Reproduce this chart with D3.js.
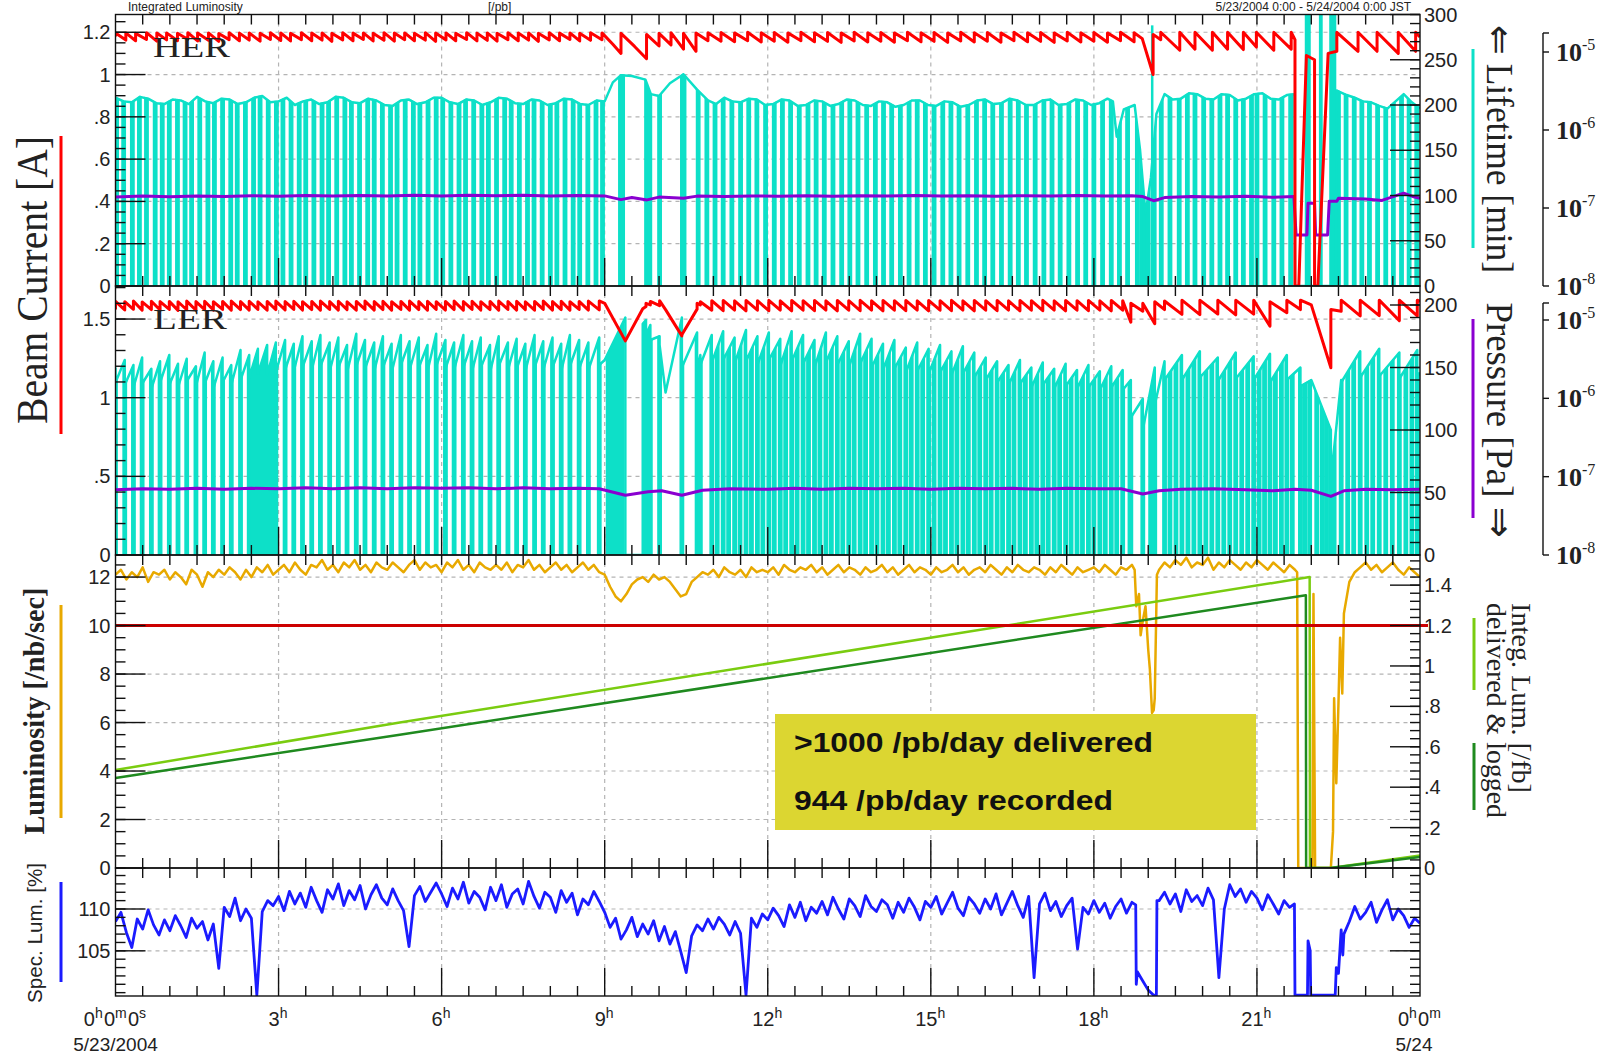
<!DOCTYPE html>
<html>
<head>
<meta charset="utf-8">
<script src="https://cdn.jsdelivr.net/npm/d3@7"></script>
<style>
  body { margin: 0; background: #fff; }
  text { font-family: "Liberation Sans", Arial, sans-serif; fill: #222; }
  .serif { font-family: "Liberation Serif", "Times New Roman", serif; }
</style>
</head>
<body>
<div id="chart"></div>
<script>
// ---- data (hours since 5/23/2004 0:00) ----

// HER beam current teeth: [hour, current before injection, current after] [A]
var herCur = [
  [0.00,1.180,1.196],[0.19,1.163,1.197],[0.37,1.160,1.195],[0.57,1.166,1.198],[0.76,1.158,1.196],[0.94,1.164,1.197],
  [1.14,1.160,1.195],[1.33,1.167,1.198],[1.51,1.159,1.196],[1.71,1.162,1.197],[1.90,1.157,1.194],[2.09,1.165,1.198],
  [2.28,1.160,1.196],[2.46,1.163,1.197],[2.66,1.158,1.195],[2.85,1.166,1.198],[3.04,1.161,1.197],[3.22,1.159,1.195],
  [3.42,1.165,1.198],[3.61,1.160,1.196],[3.80,1.163,1.197],[3.98,1.157,1.195],[4.18,1.164,1.198],[4.37,1.160,1.196],
  [4.56,1.166,1.197],[4.74,1.159,1.195],[4.94,1.162,1.198],[5.13,1.158,1.196],[5.32,1.165,1.197],[5.50,1.160,1.195],
  [5.70,1.163,1.198],[5.89,1.157,1.196],[6.08,1.164,1.197],[6.26,1.160,1.195],[6.46,1.166,1.198],[6.65,1.159,1.196],
  [6.84,1.162,1.197],[7.02,1.158,1.195],[7.22,1.165,1.198],[7.41,1.160,1.196],[7.60,1.163,1.197],[7.78,1.157,1.195],
  [7.98,1.164,1.198],[8.17,1.160,1.196],[8.36,1.166,1.197],[8.54,1.159,1.195],[8.74,1.162,1.198],[8.95,1.165,1.197],
  [9.15,1.143,1.143],[9.30,1.100,1.195],[9.55,1.133,1.133],[9.77,1.075,1.190],[10.00,1.135,1.195],[10.22,1.140,1.198],
  [10.45,1.120,1.195],[10.68,1.110,1.197],[10.90,1.160,1.198],
  [11.14,1.158,1.199],[11.39,1.155,1.197],[11.63,1.160,1.200],[11.88,1.154,1.198],[12.12,1.158,1.199],[12.37,1.153,1.197],
  [12.61,1.160,1.200],[12.86,1.155,1.198],[13.10,1.157,1.199],[13.35,1.152,1.197],[13.59,1.159,1.200],[13.84,1.154,1.198],
  [14.08,1.158,1.199],[14.33,1.153,1.197],[14.57,1.160,1.200],[14.82,1.155,1.198],[15.06,1.157,1.199],[15.31,1.152,1.197],
  [15.55,1.159,1.200],[15.80,1.154,1.198],[16.04,1.158,1.199],[16.29,1.153,1.197],[16.53,1.160,1.200],[16.78,1.155,1.198],
  [17.02,1.157,1.199],[17.27,1.152,1.197],[17.51,1.159,1.200],[17.76,1.154,1.198],[18.00,1.158,1.199],[18.25,1.153,1.197],
  [18.49,1.160,1.200],[18.74,1.155,1.198],
  [18.89,1.170,1.170],[19.09,1.000,1.190],[19.23,1.165,1.200],[19.58,1.115,1.200],[19.86,1.120,1.200],[20.18,1.115,1.200],
  [20.46,1.120,1.200],[20.75,1.118,1.200],[20.99,1.130,1.200],[21.31,1.115,1.200],[21.63,1.120,1.200],
  [21.70,1.165,0],[21.77,0,0],[21.91,1.090,1.090],[22.06,1.070,0],[22.12,0,0],[22.31,1.100,1.100],[22.47,1.110,1.200],
  [22.86,1.110,1.200],[23.21,1.110,1.200],[23.60,1.100,1.200],[23.92,1.110,1.200],[24.00,1.178,1.178]
];

// HER lifetime, top of the trace [hour, min]
var herLife = [
  [0,208],[0.15,204],[0.3,203],[0.45,209],[0.6,207],[0.75,202],[0.9,201],[1.05,206],[1.2,205],[1.35,201],
  [1.5,209],[1.65,204],[1.8,202],[1.95,207],[2.1,206],[2.25,201],[2.4,203],[2.55,208],[2.7,210],[2.85,203],
  [3.0,204],[3.15,208],[3.3,200],[3.45,204],[3.6,206],[3.75,201],[3.9,203],[4.05,209],[4.2,208],[4.35,203],
  [4.5,202],[4.65,207],[4.8,205],[4.95,200],[5.1,199],[5.25,205],[5.4,206],[5.55,201],[5.7,203],[5.85,208],
  [6.0,208],[6.15,203],[6.3,201],[6.45,206],[6.6,205],[6.75,200],[6.9,203],[7.05,208],[7.2,207],[7.35,202],
  [7.5,201],[7.65,206],[7.8,205],[7.95,200],[8.1,202],[8.25,207],[8.4,206],[8.55,201],[8.7,200],[8.85,205],
  [9.0,204],[9.15,225],[9.3,233],[9.5,232],[9.75,228],[9.85,212],[10.0,210],[10.2,224],[10.45,234],[10.7,217],
  [10.9,205],[11.05,201],[11.2,208],[11.35,204],[11.5,203],[11.65,207],[11.8,206],[11.95,200],[12.1,201],[12.25,206],
  [12.4,205],[12.55,199],[12.7,200],[12.85,205],[13.0,204],[13.15,199],[13.3,201],[13.45,206],[13.6,205],[13.75,200],
  [13.9,199],[14.05,204],[14.2,203],[14.35,198],[14.5,200],[14.65,205],[14.8,205],[14.95,200],[15.1,199],[15.25,204],
  [15.4,203],[15.55,198],[15.7,200],[15.85,205],[16.0,206],[16.15,201],[16.3,202],[16.45,207],[16.6,205],[16.75,200],
  [16.9,200],[17.05,205],[17.2,206],[17.35,200],[17.5,201],[17.65,206],[17.8,205],[17.95,200],[18.1,202],[18.25,207],
  [18.35,204],[18.42,165],[18.55,195],[18.75,200],[18.85,150],
  [18.95,80],[19.05,120],[19.15,190],[19.3,212],[19.45,206],[19.6,207],[19.75,213],[19.9,212],[20.05,207],[20.2,206],
  [20.35,212],[20.5,211],[20.65,205],[20.8,207],[20.95,212],[21.1,213],[21.25,207],[21.4,206],[21.55,211],
  [21.69,212],[21.70,0],[22.45,0],[22.47,216],[22.65,211],[22.8,208],[22.95,204],[23.1,203],[23.25,199],
  [23.4,196],[23.55,204],[23.7,212],[23.85,203],[24,196]
];

// HER injection dips of the lifetime trace [hour]
var herInj = [0.02,0.15,0.31,0.44,0.57,0.73,0.86,0.99,1.14,1.28,1.40,1.55,1.70,1.82,1.97,2.12,2.24,2.39,2.54,2.66,
  2.81,2.96,3.08,3.23,3.38,3.50,3.65,3.80,3.92,4.07,4.22,4.34,4.49,4.64,4.76,4.91,5.06,5.18,5.33,5.48,5.60,5.75,
  5.90,6.02,6.17,6.32,6.44,6.59,6.74,6.86,7.01,7.16,7.28,7.43,7.58,7.70,7.85,8.00,8.12,8.27,8.42,8.54,8.69,8.84,8.96,
  9.29,9.33,9.77,9.83,10.01,10.43,10.46,10.72,10.88,
  11.03,11.18,11.34,11.50,11.65,11.80,11.96,12.12,12.27,12.42,12.58,12.74,12.89,13.04,13.20,13.36,13.51,13.66,13.82,
  13.98,14.13,14.28,14.44,14.60,14.75,14.90,15.06,15.22,15.37,15.52,15.68,15.84,15.99,16.14,16.30,16.46,16.61,16.76,
  16.92,17.08,17.23,17.38,17.54,17.70,17.85,18.00,18.16,18.32,
  18.47,18.62,18.80,18.88,18.93,19.00,19.11,19.24,
  19.40,19.57,19.72,19.86,20.02,20.17,20.32,20.46,20.61,20.75,20.90,21.00,21.15,21.31,21.46,21.62,
  22.50,22.64,22.79,22.93,23.07,23.22,23.37,23.51,23.66,23.80,23.94];

// HER lifetime going off scale during the abort: [from, to, min]
var herLifeHigh = [[19.05,19.08,288],[21.88,21.99,300],[22.14,22.21,300],[22.33,22.46,300]];

// HER pressure [hour, x1e-7 Pa]
var herPres = [
  [0,1.38],[0.5,1.42],[1,1.39],[1.5,1.43],[2,1.40],[2.5,1.44],[3,1.41],[3.5,1.45],[4,1.42],[4.5,1.45],[5,1.43],
  [5.5,1.46],[6,1.43],[6.5,1.46],[7,1.44],[7.5,1.46],[8,1.43],[8.5,1.45],[9.0,1.43],[9.3,1.28],[9.5,1.36],[9.78,1.27],
  [10.0,1.38],[10.45,1.33],[10.7,1.42],[11.2,1.40],[11.7,1.43],[12.2,1.41],[12.7,1.44],[13.2,1.41],[13.7,1.44],
  [14.2,1.42],[14.7,1.45],[15.2,1.42],[15.7,1.44],[16.2,1.41],[16.7,1.44],[17.2,1.42],[17.7,1.45],[18.2,1.42],
  [18.7,1.44],[18.9,1.40],[19.1,1.24],[19.3,1.36],[19.8,1.40],[20.3,1.38],[20.8,1.41],[21.3,1.37],[21.68,1.40],
  [21.72,0.45],[21.92,0.45],[21.94,1.15],[22.06,1.15],[22.08,0.45],[22.30,0.45],[22.33,1.22],[22.47,1.22],
  [22.5,1.33],[23.0,1.30],[23.3,1.25],[23.7,1.55],[23.9,1.38],[24,1.33]
];

// LER fills: [hour, current before, current after, lifetime before, lifetime after]
var lerFill = [
  [0.00,1.560,1.612,150,138],[0.17,1.558,1.610,156,136],[0.33,1.562,1.614,152,134],[0.49,1.556,1.609,158,137],
  [0.66,1.560,1.613,149,133],[0.82,1.557,1.611,155,138],[0.99,1.561,1.612,160,136],[1.15,1.555,1.610,153,134],
  [1.31,1.559,1.614,157,139],[1.48,1.556,1.611,151,135],[1.64,1.560,1.613,162,137],[1.80,1.557,1.610,155,133],
  [1.97,1.561,1.612,158,138],[2.13,1.556,1.614,152,136],[2.30,1.560,1.611,164,140],[2.46,1.557,1.613,160,142],
  [2.62,1.561,1.610,165,145],[2.79,1.556,1.612,168,144],[2.95,1.560,1.614,170,146],[3.12,1.558,1.611,172,148],
  [3.28,1.561,1.613,169,147],[3.44,1.557,1.610,175,150],[3.61,1.560,1.612,171,148],[3.77,1.556,1.614,176,151],
  [3.94,1.561,1.611,170,147],[4.10,1.557,1.613,174,150],[4.26,1.560,1.610,168,146],[4.43,1.556,1.612,177,151],
  [4.59,1.561,1.614,172,149],[4.76,1.557,1.611,170,147],[4.92,1.560,1.613,175,150],[5.08,1.556,1.610,169,146],
  [5.25,1.561,1.612,176,152],[5.41,1.557,1.614,171,148],[5.58,1.560,1.611,174,150],[5.74,1.556,1.613,168,147],
  [5.90,1.561,1.610,177,151],[6.07,1.557,1.612,172,149],[6.23,1.560,1.614,170,148],[6.40,1.556,1.611,176,150],
  [6.56,1.561,1.613,171,147],[6.72,1.557,1.610,174,150],[6.89,1.560,1.612,168,146],[7.05,1.556,1.614,175,151],
  [7.22,1.561,1.611,170,148],[7.38,1.557,1.613,173,149],[7.54,1.560,1.610,169,147],[7.71,1.556,1.612,176,150],
  [7.87,1.561,1.614,171,148],[8.04,1.557,1.611,174,150],[8.20,1.560,1.613,169,147],[8.36,1.556,1.610,176,151],
  [8.53,1.561,1.612,172,149],[8.70,1.557,1.614,170,148],[8.90,1.558,1.615,174,152],
  [9.00,1.600,1.600,156,156],[9.38,1.361,1.361,190,0],[9.70,1.565,1.565,0,185],[9.76,1.580,1.600,188,176],
  [9.84,1.590,1.612,184,172],[10.01,1.585,1.617,175,168],[10.12,1.560,1.560,130,130],[10.42,1.393,1.400,190,150],
  [10.70,1.563,1.600,178,148],[10.76,1.590,1.610,160,152],
  [10.97,1.556,1.617,176,154],[11.18,1.553,1.618,179,156],[11.39,1.557,1.616,174,153],[11.60,1.552,1.618,180,155],
  [11.81,1.556,1.617,175,152],[12.02,1.553,1.619,178,156],[12.23,1.557,1.616,173,151],[12.44,1.552,1.618,179,155],
  [12.65,1.556,1.617,176,153],[12.86,1.553,1.618,172,150],[13.07,1.557,1.616,178,154],[13.28,1.552,1.618,175,152],
  [13.49,1.556,1.617,171,150],[13.70,1.553,1.619,177,153],[13.91,1.557,1.616,173,150],[14.12,1.552,1.618,169,148],
  [14.33,1.556,1.617,172,149],[14.54,1.553,1.618,166,146],[14.75,1.557,1.616,170,147],[14.96,1.552,1.618,165,145],
  [15.17,1.556,1.617,168,146],[15.38,1.553,1.619,163,144],[15.59,1.557,1.616,167,145],[15.80,1.552,1.618,162,142],
  [16.01,1.556,1.617,158,140],[16.22,1.553,1.618,155,138],[16.43,1.557,1.616,152,136],[16.64,1.552,1.618,156,137],
  [16.85,1.556,1.617,150,134],[17.06,1.553,1.619,154,136],[17.27,1.557,1.616,149,133],[17.48,1.552,1.618,153,135],
  [17.69,1.556,1.617,148,133],[17.90,1.553,1.618,152,134],[18.11,1.557,1.616,147,132],[18.32,1.552,1.618,151,134],
  [18.53,1.556,1.617,148,132],
  [18.68,1.480,1.600,140,110],[18.90,1.550,1.600,125,100],[19.12,1.470,1.610,150,120],[19.30,1.560,1.615,155,140],
  [19.62,1.530,1.620,160,140],[19.95,1.528,1.620,163,142],[20.28,1.532,1.620,158,139],[20.61,1.527,1.620,162,141],
  [20.94,1.531,1.620,159,140],[21.24,1.455,1.610,161,138],[21.55,1.540,1.620,160,140],[21.80,1.560,1.620,150,135],
  [22.00,1.590,1.590,140,140],[22.36,1.190,1.560,100,60],[22.55,1.550,1.620,140,138],
  [22.90,1.520,1.620,163,142],[23.25,1.522,1.620,165,143],[23.62,1.490,1.620,162,141],[23.95,1.520,1.620,164,142],
  [24.00,1.612,1.612,146,146]
];

// extra LER lifetime dips (injections of the other ring) [hour]
var lerInjX = [11.07,11.28,11.49,11.70,11.91,12.12,12.33,12.54,12.75,12.96,13.17,13.38,13.59,13.80,14.01,14.22,
  14.43,14.64,14.85,15.06,15.27,15.48,15.69,15.90,16.11,16.32,16.53,16.74,16.95,17.16,17.37,17.58,17.79,18.00,
  18.21,18.42,19.40,19.51,19.73,19.84,20.06,20.17,20.39,20.50,20.72,20.83,21.04,21.14,21.34,21.45,21.65,
  21.88,21.97,22.10,22.20,22.28,22.42,22.67,22.78,23.02,23.13,23.37,23.49,23.74,23.85];

// LER stretches with continuous dips (solid under the trace) [from, to]
var lerSolid = [[2.48,2.95],[9.02,9.36],[18.62,18.70],[19.00,19.12]];

// LER pressure [hour, x1e-7 Pa]
var lerPres = [
  [0,0.68],[0.5,0.70],[1,0.69],[1.5,0.71],[2,0.69],[2.5,0.71],[3,0.70],[3.5,0.72],[4,0.70],[4.5,0.72],[5,0.70],
  [5.5,0.72],[6,0.71],[6.5,0.72],[7,0.70],[7.5,0.72],[8,0.70],[8.5,0.71],[8.9,0.70],[9.38,0.58],[9.8,0.64],
  [10.05,0.66],[10.42,0.58],[10.8,0.67],[11.3,0.70],[12,0.69],[12.5,0.71],[13,0.69],[13.5,0.71],[14,0.70],
  [14.5,0.71],[15,0.69],[15.5,0.71],[16,0.70],[16.5,0.71],[17,0.69],[17.5,0.71],[18,0.70],[18.5,0.70],[18.9,0.60],
  [19.2,0.66],[19.6,0.69],[20.2,0.70],[20.8,0.68],[21.3,0.66],[21.7,0.69],[22.0,0.67],[22.36,0.56],[22.6,0.66],
  [23,0.69],[23.5,0.68],[24,0.69]
];

// luminosity [/nb/sec], one reading every 0.1 h from 0:00
var lumStep = 0.1;
var lumVals = [
  12.1,12.3,11.9,12.2,12.0,12.4,11.8,12.2,12.1,12.3, 11.9,12.2,12.0,11.7,12.3,12.1,11.6,12.2,12.0,12.3,
  12.1,12.4,12.2,11.9,12.3,12.0,12.4,12.2,12.5,12.1, 12.3,12.5,12.2,12.6,12.3,12.1,12.5,12.4,12.7,12.3,
  12.5,12.2,12.6,12.4,12.7,12.3,12.5,12.2,12.6,12.4, 12.3,12.6,12.4,12.2,12.5,12.7,12.3,12.6,12.4,12.5,
  12.2,12.6,12.4,12.7,12.3,12.5,12.2,12.6,12.4,12.3, 12.5,12.3,12.6,12.2,12.5,12.4,12.7,12.3,12.5,12.2,
  12.4,12.6,12.3,12.5,12.2,12.4,12.6,12.3,12.5,12.2, 12.1,11.6,11.2,11.0,11.3,11.7,11.9,12.0,11.8,12.1,
  11.9,12.0,11.8,11.5,11.2,11.3,11.8,12.0,12.2,12.1, 12.3,12.0,12.4,12.2,12.1,12.3,12.0,12.4,12.2,12.3,
  12.2,12.4,12.1,12.5,12.3,12.2,12.4,12.3,12.5,12.2, 12.4,12.1,12.3,12.5,12.2,12.4,12.3,12.1,12.4,12.2,
  12.3,12.5,12.2,12.4,12.1,12.3,12.5,12.2,12.4,12.3, 12.1,12.4,12.2,12.3,12.5,12.2,12.4,12.1,12.3,12.4,
  12.2,12.5,12.3,12.1,12.4,12.2,12.5,12.3,12.2,12.4, 12.3,12.1,12.4,12.2,12.5,12.3,12.1,12.4,12.2,12.3,
  12.4,12.2,12.5,12.3,12.1,12.4,12.3,12.5,11.0,10.2, 9.0,6.5,12.3,12.6,12.4,12.7,12.5,12.8,12.4,12.6,
  12.5,12.8,12.3,12.6,12.4,12.7,12.5,12.3,12.6,12.4, 12.7,12.5,12.3,12.6,12.4,12.2,12.5,12.3,0,0,
  0,0,0,0,1.5,6.8,10.5,11.8,12.2,12.4, 12.6,12.3,12.5,12.2,12.4,12.6,12.3,12.1,12.4,12.2,
  12.0
];
// luminosity readings in between, around the beam losses [hour, /nb/sec]
var lumExtra = [[18.75,12.3],[18.78,10.8],[18.83,11.3],[18.86,9.6],[18.95,10.8],[19.03,8.2],[19.07,6.4],
  [19.12,7.0],[19.16,12.1],[21.74,12.2],[21.76,0],[22.02,0],[22.04,11.3],[22.07,0],[22.36,0],[22.42,7.0],
  [22.46,3.5],[22.53,9.5],[22.57,7.2]];

// integrated luminosity [/fb]
var intDelivered = [[0,0.485],[5.23,0.72],[21.97,1.44],[21.975,0],[22.35,0],[24,0.062]];
var intLogged = [[0,0.446],[5.23,0.66],[21.90,1.35],[21.905,0],[22.35,0],[24,0.055]];
var lumGoal = 10;

// specific luminosity [%], one reading every 0.1 h
var specStep = 0.1;
var specVals = [
  108.5,109.6,107.2,105.4,108.8,107.6,109.9,108.1,106.9,108.7, 107.4,109.2,108.0,106.6,108.9,107.7,108.5,106.3,108.2,102.9,
  110.2,109.1,111.3,108.6,110.0,108.9,99.7,109.7,111.0,110.4, 111.5,109.8,112.1,110.6,111.9,110.2,112.6,111.0,109.6,112.3,
  111.2,113.0,110.4,112.2,111.1,112.8,110.0,111.7,112.9,111.3, 110.5,112.4,111.0,109.8,105.5,111.6,112.7,110.9,112.0,113.1,
  111.8,110.3,112.5,111.2,113.2,110.7,112.1,111.4,109.9,112.6, 111.0,112.9,110.2,111.8,112.4,110.6,113.3,111.5,110.1,112.0,
  111.4,109.6,112.2,110.8,111.9,109.3,111.2,110.5,112.1,110.9, 109.6,107.8,108.9,106.4,107.5,109.0,106.7,108.2,107.0,108.6,
  106.2,107.9,105.8,107.3,104.9,102.4,106.8,108.1,107.4,108.8, 107.6,109.0,108.2,106.9,108.5,107.1,99.7,108.9,107.8,109.4,
  108.7,110.1,109.2,107.9,110.5,109.0,110.8,108.6,110.2,109.5, 110.9,109.3,111.4,110.0,108.8,111.2,110.4,109.1,111.6,110.3,
  109.7,111.1,110.5,108.9,110.8,109.6,111.3,110.2,108.7,110.9, 110.2,111.5,109.4,110.7,112.0,110.1,109.2,111.4,110.6,109.5,
  111.2,110.0,111.8,109.3,110.7,112.1,110.4,109.0,111.5,101.8, 110.6,111.9,109.8,110.9,109.1,110.4,111.3,105.2,110.2,109.4,
  111.0,109.6,110.7,108.9,110.3,111.2,109.5,110.8,102.5,101.4, 100.3,99.7,111.0,112.0,110.6,111.8,109.7,112.3,110.9,111.6,
  110.4,112.5,111.1,101.8,110.0,112.9,111.5,112.4,110.8,112.1, 111.3,109.9,111.7,110.6,109.4,111.0,110.2,99.7,99.7,99.7,
  99.7,99.7,99.7,99.7,99.7,102.3,107.0,108.5,110.3,108.8, 109.6,110.8,108.4,109.9,111.1,108.7,110.0,109.2,107.8,108.9,
  108.3
];
var specExtra = [[18.77,110.5],[18.78,101.0],[19.15,99.7],[19.16,111.0],[21.69,110.6],[21.70,99.7],[21.93,99.7],
  [21.94,106.2],[21.98,105.0],[21.99,99.7],[22.44,99.7],[22.46,103.0],[22.55,107.5],[22.58,104.5]];

// axis ticks
var hourTicks = [0, 3, 6, 9, 12, 15, 18, 21, 24];
var herCurTicks = [0, 0.2, 0.4, 0.6, 0.8, 1, 1.2];
var herLifeTicks = [0, 50, 100, 150, 200, 250, 300];
var lerCurTicks = [0, 0.5, 1, 1.5];
var lerLifeTicks = [0, 50, 100, 150, 200];
var lumTicks = [0, 2, 4, 6, 8, 10, 12];
var intTicks = [0, 0.2, 0.4, 0.6, 0.8, 1, 1.2, 1.4];
var specTicks = [105, 110];
var presTicks = [1e-8, 1e-7, 1e-6, 1e-5];

// ---- layout ----
var W = 1603, H = 1054;
var X0 = 115.5, X1 = 1420;
var PANEL = {
  her: { top: 14.5, bot: 286 },
  ler: { top: 286, bot: 555 },
  lum: { top: 555, bot: 868 },
  spec: { top: 868, bot: 996 }
};
var C = {
  red: "#ff0000", cyan: "#0de0c8", purple: "#8a00d0", orange: "#e8a900",
  lgreen: "#7acc10", dgreen: "#1f8a1f", blue: "#1b1bff", goal: "#cc0000",
  grid: "#b4b4b4", box: "#dcd631"
};

var x = d3.scaleLinear().domain([0, 24]).range([X0, X1]);
var yHerA = d3.scaleLinear().domain([0, 1.284]).range([PANEL.her.bot, PANEL.her.top]);
var yHerL = d3.scaleLinear().domain([0, 300]).range([PANEL.her.bot, PANEL.her.top]);
var yHerP = d3.scaleLog().domain([1e-8, 1e-5]).range([PANEL.her.bot, 52]);
var yLerA = d3.scaleLinear().domain([0, 1.71]).range([PANEL.ler.bot, PANEL.ler.top]);
var yLerL = d3.scaleLinear().domain([0, 215.2]).range([PANEL.ler.bot, PANEL.ler.top]);
var yLerP = d3.scaleLog().domain([1e-8, 1e-5]).range([PANEL.ler.bot, 320]);
var yLum = d3.scaleLinear().domain([0, 12.91]).range([PANEL.lum.bot, PANEL.lum.top]);
var yInt = d3.scaleLinear().domain([0, 12.91 * 0.12]).range([PANEL.lum.bot, PANEL.lum.top]);
var ySpec = d3.scaleLinear().domain([99.6, 114.9]).range([PANEL.spec.bot, PANEL.spec.top]);

var svg = d3.select("#chart").append("svg").attr("width", W).attr("height", H);
var defs = svg.append("defs");

Object.keys(PANEL).forEach(function (k) {
  defs.append("clipPath").attr("id", "clip-" + k)
    .append("rect").attr("x", X0).attr("y", PANEL[k].top)
    .attr("width", X1 - X0).attr("height", PANEL[k].bot - PANEL[k].top);
});

function fmt(v) {
  var s = d3.format("~g")(v);
  return s.replace(/^0\./, ".");
}

// ---- grid ----
var grid = svg.append("g");
function hGrid(p, scale, ticks) {
  ticks.forEach(function (v) {
    var yy = scale(v);
    if (yy >= PANEL[p].bot - 1 || yy <= PANEL[p].top + 1) return;
    grid.append("line").attr("x1", X0).attr("x2", X1).attr("y1", yy).attr("y2", yy)
      .attr("stroke", C.grid).attr("stroke-width", 1.2).attr("stroke-dasharray", "4,4");
  });
}
Object.keys(PANEL).forEach(function (k) {
  hourTicks.slice(1, -1).forEach(function (h) {
    grid.append("line").attr("x1", x(h)).attr("x2", x(h))
      .attr("y1", PANEL[k].top).attr("y2", PANEL[k].bot)
      .attr("stroke", C.grid).attr("stroke-width", 1.2).attr("stroke-dasharray", "4,4");
  });
});
hGrid("her", yHerA, herCurTicks);
hGrid("ler", yLerA, lerCurTicks);
hGrid("lum", yLum, lumTicks);
hGrid("spec", ySpec, specTicks);

// ---- line helper ----
function drawLine(g, pts, ys, color, w) {
  var line = d3.line().x(function (d) { return x(d[0]); }).y(function (d) { return ys(d[1]); });
  g.append("path").attr("d", line(pts)).attr("fill", "none")
    .attr("stroke", color).attr("stroke-width", w).attr("stroke-linejoin", "round");
}
function sawPoints(rows) {
  var pts = [];
  rows.forEach(function (r) {
    pts.push([r[0], r[1]]);
    if (r[2] !== r[1]) pts.push([r[0], r[2]]);
  });
  return pts;
}
function lifetimeDips(g, id, env, ys, bot, times, solid) {
  var area = d3.area().x(function (d) { return x(d[0]); })
    .y0(bot).y1(function (d) { return ys(d[1]) - 1; });
  defs.append("clipPath").attr("id", id).append("path").attr("d", area(env));
  var dg = g.append("g").attr("clip-path", "url(#" + id + ")");
  times.forEach(function (t) {
    dg.append("rect").attr("x", x(t) - 2.4).attr("width", 4.8)
      .attr("y", 0).attr("height", bot).attr("fill", C.cyan);
  });
  (solid || []).forEach(function (s) {
    dg.append("rect").attr("x", x(s[0])).attr("width", x(s[1]) - x(s[0]))
      .attr("y", 0).attr("height", bot).attr("fill", C.cyan);
  });
}

// ---- HER panel ----
var gHer = svg.append("g").attr("clip-path", "url(#clip-her)");
lifetimeDips(gHer, "dip-her", herLife, yHerL, PANEL.her.bot, herInj, []);
herLifeHigh.forEach(function (s) {
  gHer.append("rect").attr("x", x(s[0])).attr("width", Math.max(2.5, x(s[1]) - x(s[0])))
    .attr("y", yHerL(s[2])).attr("height", PANEL.her.bot - yHerL(s[2])).attr("fill", C.cyan);
});
drawLine(gHer, herLife, yHerL, C.cyan, 2.5);
drawLine(gHer, herPres.map(function (d) { return [d[0], d[1] * 1e-7]; }), yHerP, C.purple, 3);
drawLine(gHer, sawPoints(herCur), yHerA, C.red, 3);

// ---- LER panel ----
var gLer = svg.append("g").attr("clip-path", "url(#clip-ler)");
var lerEnv = [];
lerFill.forEach(function (r) {
  lerEnv.push([r[0], r[3]]);
  if (r[4] !== r[3]) lerEnv.push([r[0], r[4]]);
});
var lerInj = lerFill.filter(function (r) { return r[2] > r[1] + 0.005; })
  .map(function (r) { return r[0]; }).concat(lerInjX);
lifetimeDips(gLer, "dip-ler", lerEnv, yLerL, PANEL.ler.bot, lerInj, lerSolid);
drawLine(gLer, lerEnv, yLerL, C.cyan, 2.5);
drawLine(gLer, lerPres.map(function (d) { return [d[0], d[1] * 1e-7]; }), yLerP, C.purple, 3);
drawLine(gLer, sawPoints(lerFill), yLerA, C.red, 3);

// ---- luminosity panel ----
var gLum = svg.append("g").attr("clip-path", "url(#clip-lum)");
var lumPts = lumVals.map(function (v, i) { return [i * lumStep, v]; })
  .concat(lumExtra).sort(function (a, b) { return a[0] - b[0]; });
drawLine(gLum, lumPts, yLum, C.orange, 2.5);
drawLine(gLum, intDelivered, yInt, C.lgreen, 2.5);
drawLine(gLum, intLogged, yInt, C.dgreen, 2.5);
svg.append("line").attr("x1", X0).attr("x2", X1 + 8)
  .attr("y1", yLum(lumGoal)).attr("y2", yLum(lumGoal))
  .attr("stroke", C.goal).attr("stroke-width", 3);

// ---- note box (below the texts) ----
svg.append("rect").attr("x", 775).attr("y", 714).attr("width", 481).attr("height", 116).attr("fill", C.box);

// ---- specific luminosity panel ----
var gSpec = svg.append("g").attr("clip-path", "url(#clip-spec)");
var specPts = specVals.map(function (v, i) { return [i * specStep, v]; })
  .concat(specExtra).sort(function (a, b) { return a[0] - b[0]; });
drawLine(gSpec, specPts, ySpec, C.blue, 2.8);

// ---- frames and ticks ----
var ax = svg.append("g").attr("stroke", "#111").attr("stroke-width", 1.4);
var lab = svg.append("g");
Object.keys(PANEL).forEach(function (k) {
  var p = PANEL[k];
  ax.append("rect").attr("x", X0).attr("y", p.top).attr("width", X1 - X0)
    .attr("height", p.bot - p.top).attr("fill", "none");
  for (var i = 1; i < 48; i++) {
    var t = i * 0.5, major = (i % 6 === 0);
    ax.append("line").attr("x1", x(t)).attr("x2", x(t))
      .attr("y1", p.bot).attr("y2", p.bot - (major ? 28 : 10));
    ax.append("line").attr("x1", x(t)).attr("x2", x(t))
      .attr("y1", p.top).attr("y2", p.top + 10);
  }
});

function yTicks(xPos, dir, scale, majors, minorStep, lo, hi, labels) {
  var n = Math.round((hi - lo) / minorStep);
  for (var i = 0; i <= n; i++) {
    var v = lo + i * minorStep;
    ax.append("line").attr("x1", xPos).attr("x2", xPos + dir * 10)
      .attr("y1", scale(v)).attr("y2", scale(v));
  }
  majors.forEach(function (v) {
    ax.append("line").attr("x1", xPos).attr("x2", xPos + dir * 30)
      .attr("y1", scale(v)).attr("y2", scale(v));
    if (!labels) return;
    lab.append("text").attr("x", dir > 0 ? xPos - 5 : xPos + 4).attr("y", scale(v) + 7)
      .attr("text-anchor", dir > 0 ? "end" : "start").attr("font-size", 20).text(fmt(v));
  });
}
yTicks(X0, 1, yHerA, herCurTicks, 0.05, 0, 1.25, true);
yTicks(X1, -1, yHerL, herLifeTicks, 10, 0, 300, true);
yTicks(X0, 1, yLerA, lerCurTicks, 0.1, 0, 1.7, true);
yTicks(X1, -1, yLerL, lerLifeTicks, 10, 0, 210, true);
yTicks(X0, 1, yLum, lumTicks, 0.5, 0, 12.5, true);
yTicks(X1, -1, yInt, intTicks, 0.04, 0, 1.52, true);
yTicks(X0, 1, ySpec, specTicks, 1, 100, 114, true);
yTicks(X1, -1, ySpec, specTicks, 1, 100, 114, false);

// ---- pressure log axes ----
function logAxis(scale, yTop) {
  var xa = 1543;
  ax.append("line").attr("x1", xa).attr("x2", xa).attr("y1", yTop).attr("y2", scale(1e-8));
  ax.append("line").attr("x1", xa).attr("x2", xa + 6).attr("y1", yTop).attr("y2", yTop);
  presTicks.forEach(function (v) {
    var yy = scale(v);
    ax.append("line").attr("x1", xa).attr("x2", xa + 6).attr("y1", yy).attr("y2", yy);
    var t = lab.append("text").attr("class", "serif").attr("x", xa + 13).attr("y", yy + 9)
      .attr("font-size", 26).attr("font-weight", "bold");
    t.append("tspan").text("10");
    t.append("tspan").attr("dy", -11).attr("font-size", 16).attr("font-weight", "normal")
      .text("-" + Math.round(-Math.log10(v)));
  });
}
logAxis(yHerP, 33);
logAxis(yLerP, 303);

// ---- time labels ----
function timeLabel(h, parts, sub) {
  var t = lab.append("text").attr("x", x(h)).attr("y", 1026).attr("text-anchor", "middle")
    .attr("font-size", 20);
  parts.forEach(function (p) {
    t.append("tspan").attr("dy", 0).text(p[0]);
    t.append("tspan").attr("dy", -8).attr("font-size", 14).text(p[1]);
    t.append("tspan").attr("dy", 8).attr("font-size", 14).text("\u200a");
  });
  if (sub) {
    lab.append("text").attr("x", x(h) + sub[1]).attr("y", 1051).attr("text-anchor", "middle")
      .attr("font-size", 19).text(sub[0]);
  }
}
hourTicks.forEach(function (h) {
  if (h === 0) timeLabel(0, [["0", "h"], ["0", "m"], ["0", "s"]], ["5/23/2004", 0]);
  else if (h === 24) timeLabel(24, [["0", "h"], ["0", "m"]], ["5/24", -6]);
  else timeLabel(h, [[String(h), "h"]]);
});

// ---- ring names ----
lab.append("text").attr("class", "serif").attr("x", 153).attr("y", 57).attr("font-size", 29)
  .attr("textLength", 77).attr("lengthAdjust", "spacingAndGlyphs").text("HER");
lab.append("text").attr("class", "serif").attr("x", 153).attr("y", 329).attr("font-size", 29)
  .attr("textLength", 74).attr("lengthAdjust", "spacingAndGlyphs").text("LER");

// ---- axis titles ----
function vText(xp, yp, rot, txt, size, opts) {
  var t = lab.append("text").attr("transform", "translate(" + xp + "," + yp + ") rotate(" + rot + ")")
    .attr("font-size", size).attr("text-anchor", opts.anchor || "middle").text(txt);
  if (opts.serif) t.attr("class", "serif");
  if (opts.bold) t.attr("font-weight", "bold");
  if (opts.len) t.attr("textLength", opts.len).attr("lengthAdjust", "spacingAndGlyphs");
  return t;
}
vText(47, 280, -90, "Beam Current [A]", 44, { serif: true, len: 288 });
vText(44, 711, -90, "Luminosity [/nb/sec]", 30, { serif: true, bold: true, len: 247 });
vText(42, 933, -90, "Spec. Lum. [%]", 21, { len: 140 });
vText(1487, 149, 90, "\u21d0 Lifetime [min]", 38, { serif: true, len: 248 });
vText(1487, 420, 90, "Pressure [Pa] \u21d2", 38, { serif: true, len: 235 });
vText(1512, 603, 90, "Integ. Lum. [/fb]", 28, { serif: true, anchor: "start", len: 190 });
vText(1487, 603, 90, "delivered & logged", 28, { serif: true, anchor: "start", len: 215 });

// colour keys beside the titles
function key(xp, y1, y2, color) {
  svg.append("line").attr("x1", xp).attr("x2", xp).attr("y1", y1).attr("y2", y2)
    .attr("stroke", color).attr("stroke-width", 3);
}
key(61, 136, 434, C.red);
key(61, 605, 818, C.orange);
key(61, 882, 982, C.blue);
key(1473, 49, 248, C.cyan);
key(1473, 319, 518, C.purple);
key(1474, 618, 690, C.lgreen);
key(1474, 743, 810, C.dgreen);

// ---- note text ----
lab.append("text").attr("x", 794).attr("y", 752).attr("font-size", 28).attr("font-weight", "bold")
  .attr("textLength", 359).attr("lengthAdjust", "spacingAndGlyphs").style("fill", "#111")
  .text(">1000 /pb/day delivered");
lab.append("text").attr("x", 794).attr("y", 810).attr("font-size", 28).attr("font-weight", "bold")
  .attr("textLength", 319).attr("lengthAdjust", "spacingAndGlyphs").style("fill", "#111")
  .text("944 /pb/day recorded");

// ---- title line above the top frame ----
lab.append("text").attr("x", 128).attr("y", 11).attr("font-size", 12).attr("fill", "#444")
  .text("Integrated Luminosity");
lab.append("text").attr("x", 488).attr("y", 11).attr("font-size", 12).text("[/pb]");
lab.append("text").attr("x", 1411).attr("y", 11).attr("font-size", 12).attr("text-anchor", "end")
  .text("5/23/2004 0:00 - 5/24/2004 0:00 JST");
</script>
</body>
</html>
